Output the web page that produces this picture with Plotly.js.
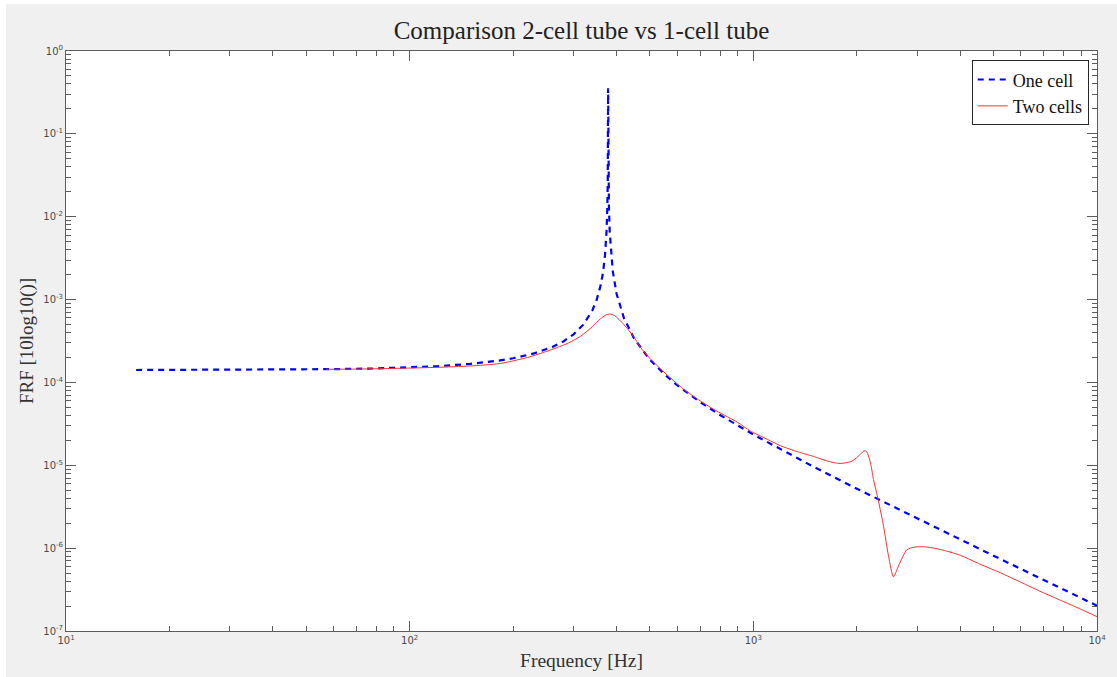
<!DOCTYPE html>
<html>
<head>
<meta charset="utf-8">
<script src="https://cdn.plot.ly/plotly-3.0.1.min.js"></script>
<style>
  html, body { margin: 0; padding: 0; background: #ffffff; }
  #fig { position: absolute; left: 6px; top: 4px; width: 1111px; height: 673px; }
</style>
</head>
<body>
<div id="fig"></div>
<script>
// Frequency response of the single-cell tube
const freqOne = [16,20,30,40,50,60,80,100,120,150,180,200,230,260,280,300,320,340,350,360,
  365,370,374,376,377,378,379,380,382,386,390,400,420,450,500,550,600,700,800,1000,
  1200,1500,2000,2500,3000,4000,5000,6000,7000,8000,9000,10000];
const frfOne = [1.413e-4,1.414e-4,1.419e-4,1.426e-4,1.435e-4,1.446e-4,1.476e-4,1.516e-4,1.568e-4,1.674e-4,
  1.824e-4,1.958e-4,2.239e-4,2.676e-4,3.125e-4,3.81e-4,4.977e-4,7.38e-4,9.88e-4,1.517e-3,
  2.083e-3,3.365e-3,6.68e-3,1.33e-2,2.66e-2,3.55e-1,2.66e-2,1.33e-2,6.62e-3,3.30e-3,
  2.19e-3,1.177e-3,6.01e-4,3.38e-4,1.881e-4,1.262e-4,9.28e-5,5.80e-5,4.05e-5,2.35e-5,
  1.554e-5,9.55e-6,5.22e-6,3.30e-6,2.27e-6,1.271e-6,8.10e-7,5.62e-7,4.12e-7,3.155e-7,
  2.49e-7,2.02e-7];

// Frequency response of the two-cell tube
const freqTwo = [57,70,85,100,120,150,183,220,256,290,
  314,340,358,372,382,395,420,448,468,500,
  550,626,700,783,900,979,1100,1200,1350,1496,
  1650,1789,1935,2046,2080,2114,2140,2163,2200,2237,
  2275,2313,2393,2474,2557,2645,2799,2950,3128,3400,
  3656,4000,4571,5230,6000,7000,8000,9000,10000];
const frfTwo = [1.44e-4,1.45e-4,1.47e-4,1.49e-4,1.52e-4,1.58e-4,1.69e-4,2.0e-4,2.45e-4,3.0e-4,
  3.6e-4,4.7e-4,5.8e-4,6.5e-4,6.7e-4,6.4e-4,5.0e-4,3.6e-4,2.7e-4,1.95e-4,
  1.33e-4,8.3e-5,6.0e-5,4.5e-5,3.3e-5,2.6e-5,2.05e-5,1.72e-5,1.45e-5,1.28e-5,
  1.12e-5,1.05e-5,1.12e-5,1.35e-5,1.45e-5,1.50e-5,1.45e-5,1.3e-5,1.0e-5,6.7e-6,
  5.0e-6,3.7e-6,1.84e-6,8.0e-7,4.5e-7,6.1e-7,9.6e-7,1.03e-6,1.04e-6,9.9e-7,
  9.2e-7,8.2e-7,6.4e-7,5.05e-7,3.88e-7,2.88e-7,2.26e-7,1.82e-7,1.49e-7];

// Decade tick positions and labels
const xTickVals = [1e1, 1e2, 1e3, 1e4];
const xTickText = ['10<sup>1</sup>', '10<sup>2</sup>', '10<sup>3</sup>', '10<sup>4</sup>'];
const yTickVals = [1e-7, 1e-6, 1e-5, 1e-4, 1e-3, 1e-2, 1e-1, 1e0];
const yTickText = ['10<sup>-7</sup>', '10<sup>-6</sup>', '10<sup>-5</sup>', '10<sup>-4</sup>',
  '10<sup>-3</sup>', '10<sup>-2</sup>', '10<sup>-1</sup>', '10<sup>0</sup>'];

const seriesNames = ['One cell', 'Two cells'];

const serif = 'Liberation Serif, Times New Roman, serif';
const axisColor = '#5c5c5c';
const tickFont = { family: 'DejaVu Sans, sans-serif', size: 10, color: '#4a4a4a' };

const traces = [
  {
    x: freqOne, y: frfOne, name: seriesNames[0], type: 'scatter', mode: 'lines',
    line: { color: '#0000ff', width: 2.2, dash: '6px,5px' }
  },
  {
    x: freqTwo, y: frfTwo, name: seriesNames[1], type: 'scatter', mode: 'lines',
    line: { color: '#ff3030', width: 1, shape: 'spline', smoothing: 0.6 }
  }
];

function axisBase() {
  return {
    type: 'log',
    showgrid: false,
    zeroline: false,
    showline: true,
    linecolor: axisColor,
    linewidth: 1,
    mirror: 'allticks',
    ticks: 'inside',
    ticklen: 10,
    tickwidth: 1,
    tickcolor: axisColor,
    tickfont: tickFont,
    tickmode: 'array',
    minor: { ticks: 'inside', ticklen: 5, tickwidth: 1, tickcolor: axisColor, dtick: 'D1', showgrid: false },
    automargin: false
  };
}

const xaxis = Object.assign(axisBase(), {
  range: [1, 4],
  tickvals: xTickVals,
  ticktext: xTickText,
  title: { text: 'Frequency [Hz]', font: { family: serif, size: 19.5, color: '#333333' }, standoff: 8 }
});

const yaxis = Object.assign(axisBase(), {
  range: [-7, 0],
  tickvals: yTickVals,
  ticktext: yTickText,
  title: { text: 'FRF [10log10()]', font: { family: serif, size: 19, color: '#333333' }, standoff: 4 }
});

const layout = {
  width: 1111,
  height: 673,
  paper_bgcolor: '#f0f0f0',
  plot_bgcolor: '#ffffff',
  margin: { l: 60, r: 20, t: 47, b: 46, pad: 0 },
  title: {
    text: 'Comparison 2-cell tube vs 1-cell tube',
    font: { family: serif, size: 25, color: '#222222' },
    x: 0.5, xref: 'paper', xanchor: 'center',
    y: 0.961, yref: 'container', yanchor: 'middle'
  },
  xaxis: xaxis,
  yaxis: yaxis,
  showlegend: true,
  legend: {
    x: 0.992, xanchor: 'right',
    y: 0.984, yanchor: 'top',
    bgcolor: '#ffffff',
    bordercolor: '#262626',
    borderwidth: 1,
    font: { family: serif, size: 18, color: '#111111' },
    tracegroupgap: 0,
    itemwidth: 30
  }
};

Plotly.newPlot('fig', traces, layout, { displayModeBar: false, staticPlot: true });
</script>
</body>
</html>
